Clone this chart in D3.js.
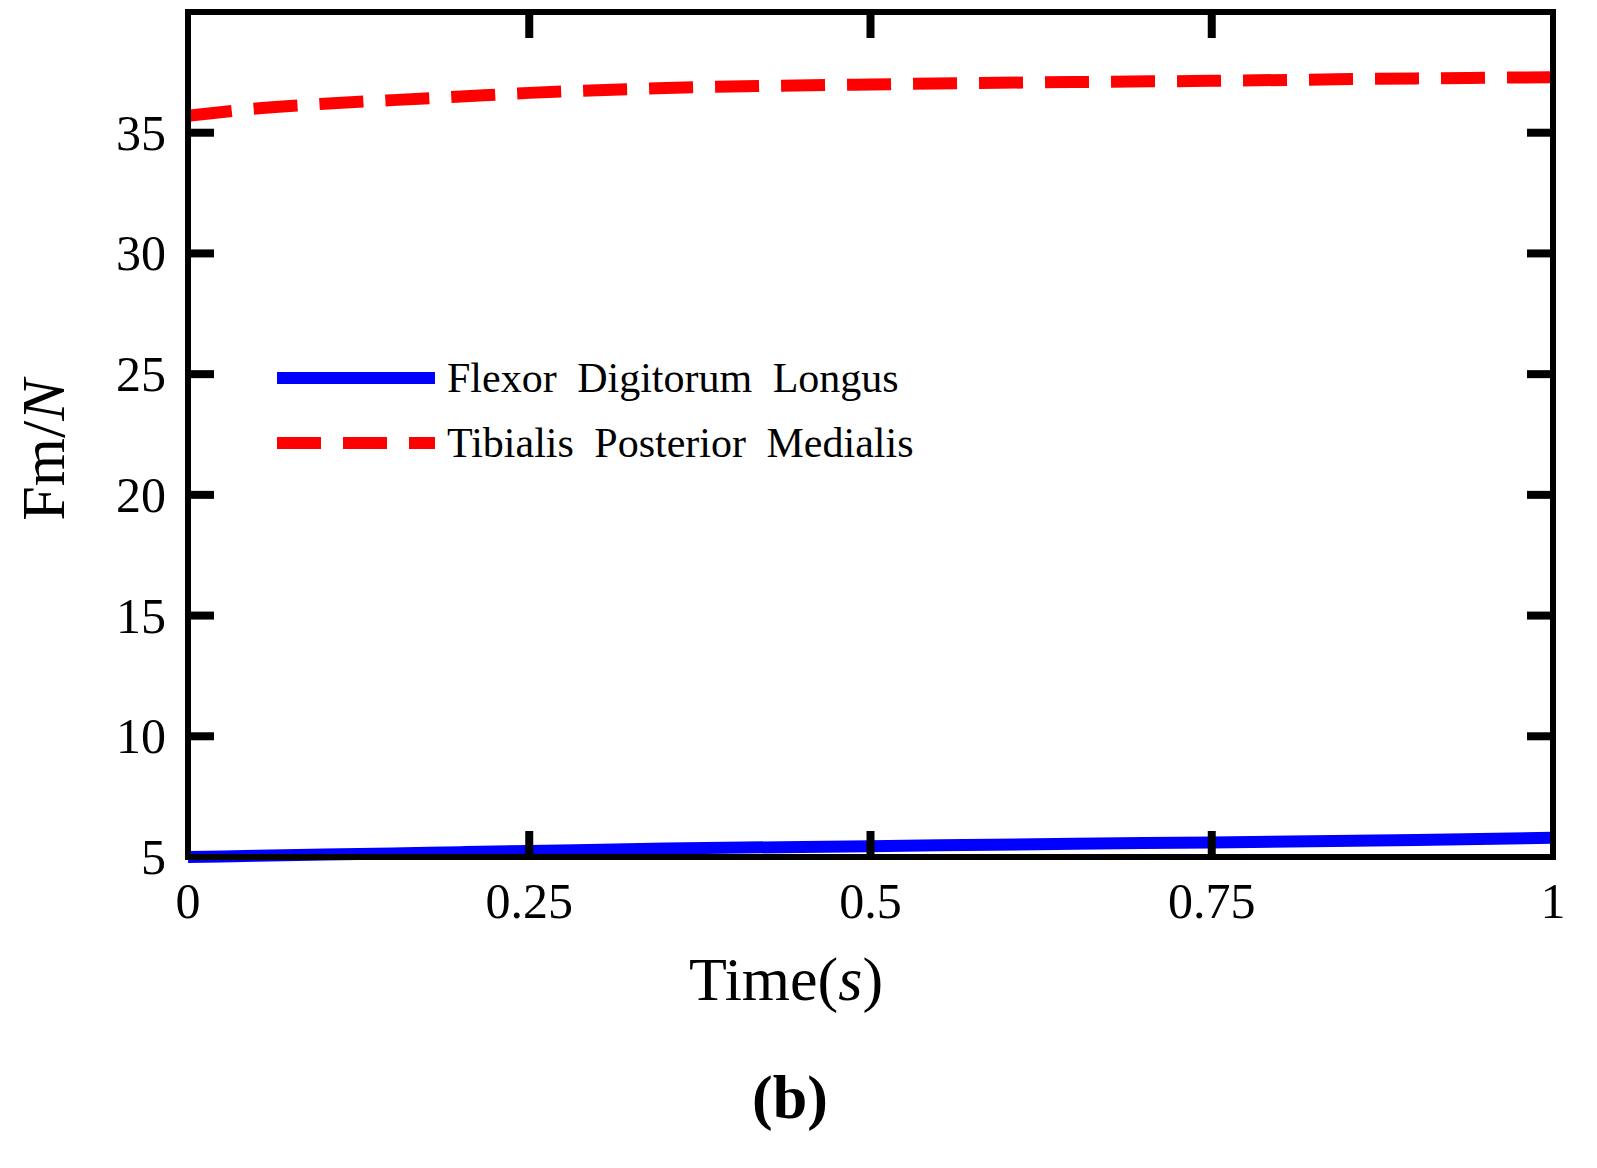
<!DOCTYPE html>
<html><head><meta charset="utf-8">
<script src="https://cdn.jsdelivr.net/npm/d3@7"></script>
<style>body{margin:0;background:#fff}</style>
</head><body>
<svg id="chart" width="1597" height="1168"></svg>
<script>
// values
const times = [0, 0.05, 0.1, 0.15, 0.2, 0.25, 0.35, 0.5, 0.65, 0.75, 0.9, 1];
const flexor = [5.0, 5.05, 5.1, 5.15, 5.2, 5.25, 5.35, 5.45, 5.55, 5.6, 5.7, 5.8];
const tibialis = [35.7, 36.0, 36.2, 36.35, 36.5, 36.65, 36.85, 37.0, 37.1, 37.15, 37.25, 37.3];
const xTicks = [0, 0.25, 0.5, 0.75, 1];
const xTickLabels = ['0', '0.25', '0.5', '0.75', '1'];
const yTicks = [5, 10, 15, 20, 25, 30, 35];

const svg = d3.select('#chart');
const font = '"Liberation Serif", "DejaVu Serif", serif';
const plotLeft = 188, plotRight = 1553, plotTop = 12, plotBottom = 857;

const x = d3.scaleLinear().domain([0, 1]).range([plotLeft, plotRight]);
const y = d3.scaleLinear().domain([5, 40]).range([plotBottom, plotTop]);

// lines
const line = d3.line().x((d, i) => x(times[i])).y(d => y(d)).curve(d3.curveMonotoneX);
svg.append('path').attr('d', line(flexor)).attr('fill', 'none')
    .attr('stroke', '#0000ff').attr('stroke-width', 12);
svg.append('path').attr('d', line(tibialis)).attr('fill', 'none')
    .attr('stroke', '#ff0000').attr('stroke-width', 12).attr('stroke-dasharray', '44,22');

// frame
svg.append('rect').attr('x', plotLeft).attr('y', plotTop)
    .attr('width', plotRight - plotLeft).attr('height', plotBottom - plotTop)
    .attr('fill', 'none').attr('stroke', '#000').attr('stroke-width', 6);

// inward ticks on all sides
const tl = 26;
xTicks.slice(1, -1).forEach(t => {
    svg.append('line').attr('x1', x(t)).attr('x2', x(t)).attr('y1', plotBottom).attr('y2', plotBottom - tl)
        .attr('stroke', '#000').attr('stroke-width', 8);
    svg.append('line').attr('x1', x(t)).attr('x2', x(t)).attr('y1', plotTop).attr('y2', plotTop + tl)
        .attr('stroke', '#000').attr('stroke-width', 8);
});
yTicks.slice(1).forEach(t => {
    svg.append('line').attr('x1', plotLeft).attr('x2', plotLeft + tl).attr('y1', y(t)).attr('y2', y(t))
        .attr('stroke', '#000').attr('stroke-width', 8);
    svg.append('line').attr('x1', plotRight).attr('x2', plotRight - tl).attr('y1', y(t)).attr('y2', y(t))
        .attr('stroke', '#000').attr('stroke-width', 8);
});

// tick labels
xTicks.forEach((t, i) => {
    svg.append('text').attr('x', x(t)).attr('y', 918).attr('text-anchor', 'middle')
        .attr('font-family', font).attr('font-size', 50).text(xTickLabels[i]);
});
yTicks.forEach(t => {
    svg.append('text').attr('x', 166).attr('y', y(t) + 17).attr('text-anchor', 'end')
        .attr('font-family', font).attr('font-size', 50).text(t);
});

// axis titles
const xt = svg.append('text').attr('x', 786).attr('y', 1000).attr('text-anchor', 'middle')
    .attr('font-family', font).attr('font-size', 62);
xt.append('tspan').text('Time(');
xt.append('tspan').attr('font-style', 'italic').text('s');
xt.append('tspan').text(')');

const yt = svg.append('text').attr('transform', 'translate(64,450) rotate(-90)').attr('text-anchor', 'middle')
    .attr('font-family', font).attr('font-size', 62);
yt.append('tspan').text('Fm/');
yt.append('tspan').attr('font-style', 'italic').text('N');

svg.append('text').attr('x', 790).attr('y', 1118).attr('text-anchor', 'middle')
    .attr('font-family', font).attr('font-size', 62).attr('font-weight', 'bold').text('(b)');

// legend
const legend = [
    {name: 'Flexor Digitorum Longus', color: '#0000ff', dash: null, yy: 378},
    {name: 'Tibialis Posterior Medialis', color: '#ff0000', dash: '44,22', yy: 443}
];
legend.forEach(d => {
    svg.append('line').attr('x1', 277).attr('x2', 435).attr('y1', d.yy).attr('y2', d.yy)
        .attr('stroke', d.color).attr('stroke-width', 12).attr('stroke-dasharray', d.dash);
    svg.append('text').attr('x', 447).attr('y', d.yy + 14).attr('font-family', font)
        .attr('font-size', 42).attr('word-spacing', 10).text(d.name);
});
</script>
</body></html>
